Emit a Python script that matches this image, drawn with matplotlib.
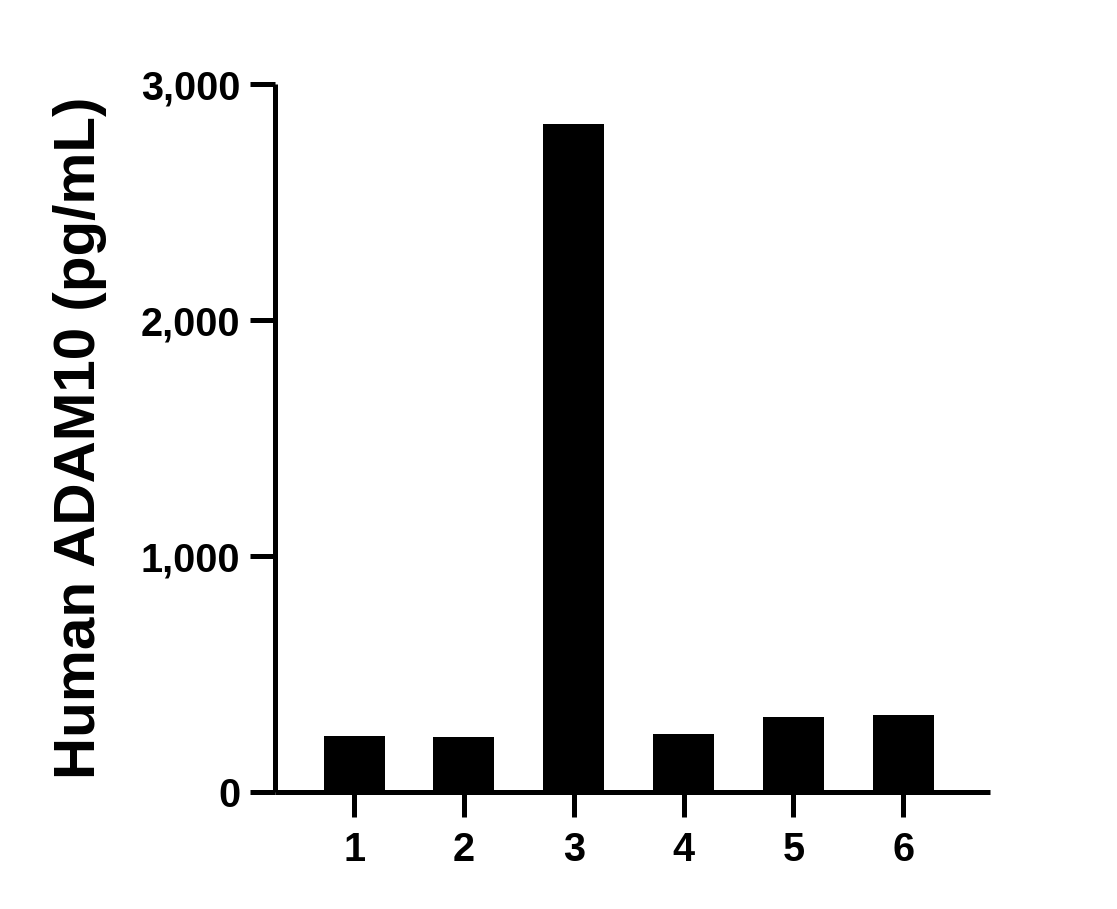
import matplotlib
matplotlib.use('Agg')
import matplotlib.pyplot as plt

samples = ['1', '2', '3', '4', '5', '6']
adam10 = [237, 233, 2831, 246, 318, 326]
ylabel = 'Human ADAM10 (pg/mL)'
yticks = [0, 1000, 2000, 3000]

plt.rcParams['font.family'] = ['Liberation Sans', 'DejaVu Sans']
plt.rcParams['font.weight'] = 'bold'

fig = plt.figure(figsize=(11.17, 9.09), dpi=100)
ax = fig.add_axes([275 / 1117, 1 - 792 / 909, 715 / 1117, 708 / 909])

pos = list(range(1, len(samples) + 1))
ax.bar(pos, adam10, width=0.555, color='black', edgecolor='none')

ax.set_xlim(0.28, 6.79)
ax.set_ylim(0, 3000)
ax.set_xticks(pos)
ax.set_xticklabels(samples)
ax.set_yticks(yticks)
ax.set_yticklabels([f'{v:,}' for v in yticks])

for s in ['top', 'right']:
    ax.spines[s].set_visible(False)
for s in ['left', 'bottom']:
    ax.spines[s].set_linewidth(3.6)
    ax.spines[s].set_capstyle('butt')

ax.tick_params(axis='both', length=18, width=3.6, direction='out', labelsize=28.5)
ax.tick_params(axis='y', pad=7)
ax.tick_params(axis='x', pad=10)

ax.set_ylabel(ylabel, fontsize=42, fontweight='bold')
ax.yaxis.set_label_coords(-0.235, 0.5)

fig.savefig('out.png', dpi=100)
